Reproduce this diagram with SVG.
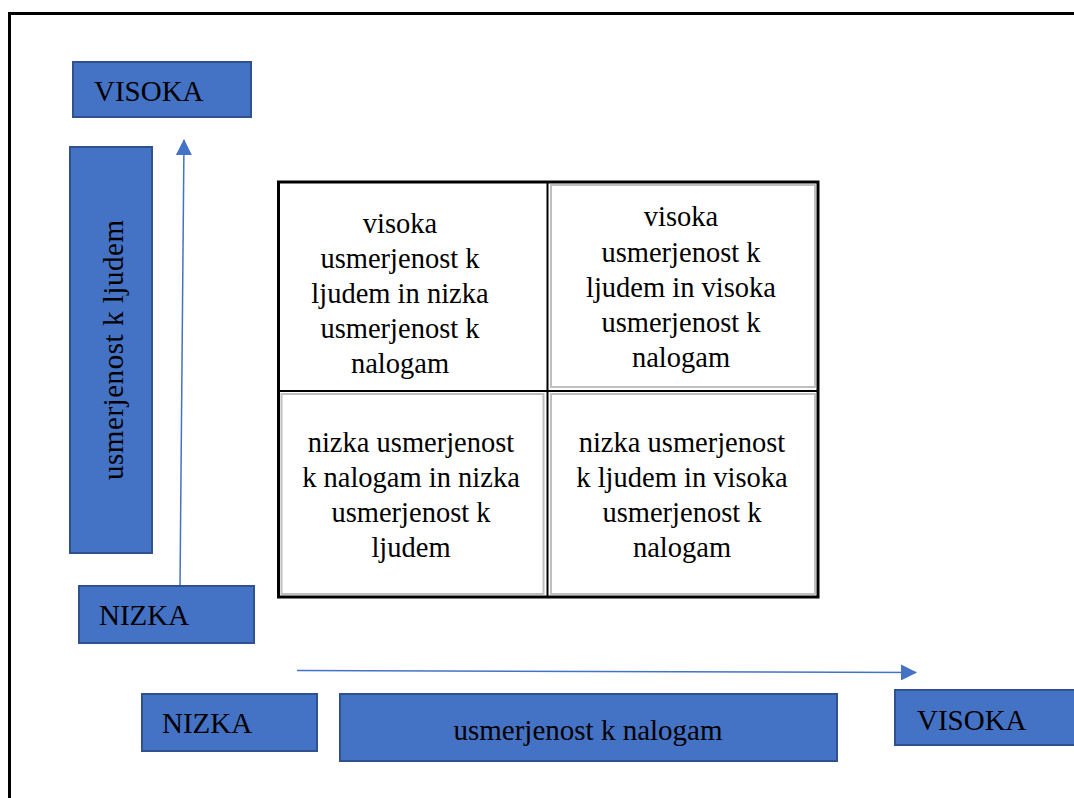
<svg xmlns="http://www.w3.org/2000/svg" width="1074" height="798" viewBox="0 0 1074 798">
<defs>
<style>
.box{fill:#4472C4;stroke:#2F528F;stroke-width:2}
.lbl{font-family:'Times New Roman','Liberation Serif','DejaVu Serif',serif;font-size:29px;fill:#000}
.cell{font-family:'Times New Roman','Liberation Serif','DejaVu Serif',serif;font-size:28.5px;fill:#000;text-anchor:middle}
.inner{fill:none;stroke:#bfbfbf;stroke-width:2}
.arr{stroke:#4472C4;stroke-width:1.5;fill:none}
</style>
<marker id="ah" markerWidth="16" markerHeight="16" viewBox="0 0 16 16" refX="15" refY="8" orient="auto" markerUnits="userSpaceOnUse">
<path d="M0,0 L16,8 L0,16 Z" fill="#4472C4"/>
</marker>
</defs>
<rect width="1074" height="798" fill="#fff"/>
<rect id="frame" x="9.5" y="13.5" width="1100" height="820" fill="none" stroke="#000" stroke-width="3"/>

<g id="connectors">
<line class="arr" x1="180" y1="586" x2="184" y2="140" marker-end="url(#ah)"/>
<line class="arr" x1="297" y1="670.5" x2="916" y2="672.5" marker-end="url(#ah)"/>
</g>

<g id="visoka-top">
<rect class="box" x="73" y="62" width="178" height="55"/>
<text class="lbl" x="94" y="101" font-family="Liberation Serif, serif">VISOKA</text>
</g>
<g id="os-ljudje">
<rect class="box" x="70" y="147" width="82" height="406"/>
<text class="lbl" transform="translate(123,350) rotate(-90)" text-anchor="middle" textLength="260" lengthAdjust="spacing" font-family="Liberation Serif, serif">usmerjenost  k ljudem</text>
</g>
<g id="nizka-left">
<rect class="box" x="79" y="586" width="175" height="57"/>
<text class="lbl" x="99" y="625" font-family="Liberation Serif, serif">NIZKA</text>
</g>
<g id="nizka-bottom">
<rect class="box" x="142" y="694" width="175" height="57"/>
<text class="lbl" x="162" y="733" font-family="Liberation Serif, serif">NIZKA</text>
</g>
<g id="os-nalogi">
<rect class="box" x="340" y="694" width="497" height="67"/>
<text class="lbl" x="588" y="740" text-anchor="middle" font-family="Liberation Serif, serif">usmerjenost k nalogam</text>
</g>
<g id="visoka-right">
<rect class="box" x="895" y="690" width="185" height="55"/>
<text class="lbl" x="917" y="730" font-family="Liberation Serif, serif">VISOKA</text>
</g>

<g id="matrix">
<rect class="inner" x="551" y="185" width="264" height="202"/>
<rect class="inner" x="281.5" y="394" width="262" height="200"/>
<rect class="inner" x="551" y="394" width="264" height="200"/>
<rect x="278.5" y="182" width="539.5" height="415" fill="none" stroke="#000" stroke-width="3"/>
<line x1="547.5" y1="182" x2="547.5" y2="597" stroke="#000" stroke-width="2"/>
<line x1="278.5" y1="391" x2="818" y2="391" stroke="#000" stroke-width="2"/>
</g>

<g id="cell-tl" font-family="Liberation Serif, serif">
<text class="cell" x="400" y="233">visoka</text>
<text class="cell" x="400" y="268">usmerjenost k</text>
<text class="cell" x="400" y="303">ljudem in nizka</text>
<text class="cell" x="400" y="338">usmerjenost k</text>
<text class="cell" x="400" y="373">nalogam</text>
</g>
<g id="cell-tr">
<text class="cell" x="681" y="226">visoka</text>
<text class="cell" x="681" y="262">usmerjenost k</text>
<text class="cell" x="681" y="297">ljudem in visoka</text>
<text class="cell" x="681" y="332">usmerjenost k</text>
<text class="cell" x="681" y="367">nalogam</text>
</g>
<g id="cell-bl">
<text class="cell" x="411" y="452">nizka usmerjenost</text>
<text class="cell" x="411" y="487">k nalogam in nizka</text>
<text class="cell" x="411" y="522">usmerjenost k</text>
<text class="cell" x="411" y="557">ljudem</text>
</g>
<g id="cell-br">
<text class="cell" x="682" y="452">nizka usmerjenost</text>
<text class="cell" x="682" y="487">k ljudem in visoka</text>
<text class="cell" x="682" y="522">usmerjenost k</text>
<text class="cell" x="682" y="557">nalogam</text>
</g>
</svg>
